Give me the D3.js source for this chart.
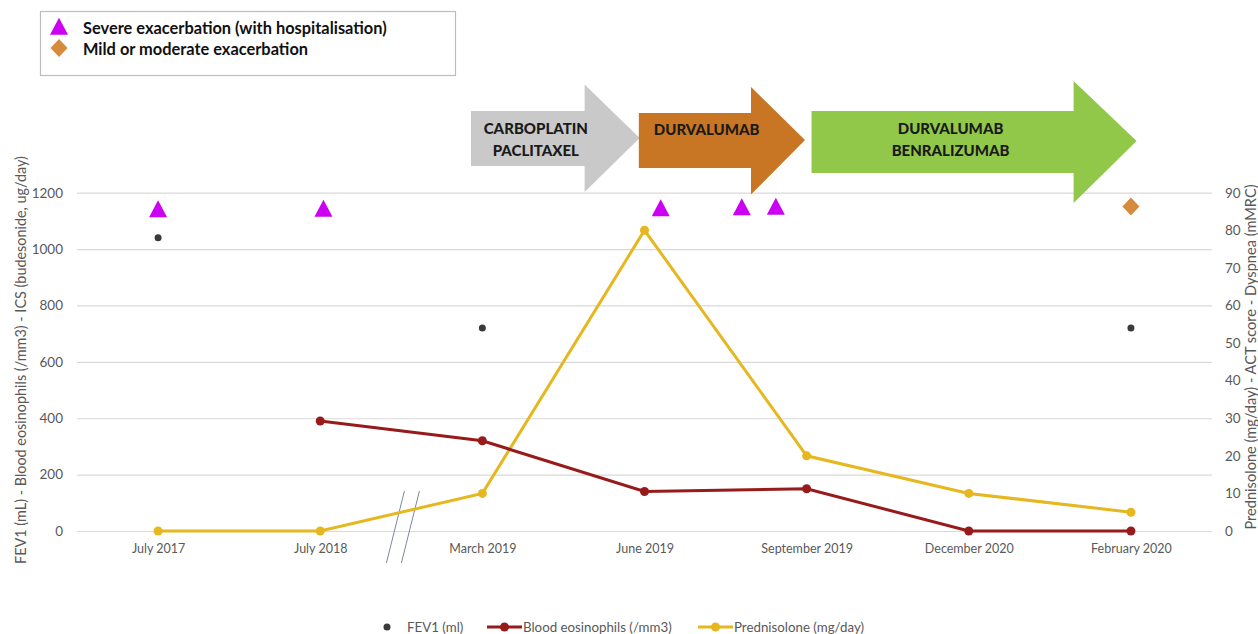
<!DOCTYPE html>
<html>
<head>
<meta charset="utf-8">
<script src="https://cdn.jsdelivr.net/npm/d3@7"></script>
<style>
  html, body { margin: 0; padding: 0; background: #fff; }
  svg { display: block; font-family: Lato, "Open Sans", sans-serif; }
</style>
</head>
<body>
<svg id="chart" width="1258" height="634"></svg>
<script>
// ---------------- DATA ----------------
const categories = ["July 2017", "July 2018", "March 2019", "June 2019", "September 2019", "December 2020", "February 2020"];
const fev1 = [1040, null, 720, null, null, null, 720];            // mL (left axis)
const eosinophils = [null, 390, 320, 140, 150, 0, 0];             // /mm3 (left axis)
const prednisolone = [0, 0, 10, 80, 20, 10, 5];                   // mg/day (right axis)
const leftTicks = [0, 200, 400, 600, 800, 1000, 1200];
const rightTicks = [0, 10, 20, 30, 40, 50, 60, 70, 80, 90];
// exacerbations: position as (fractional) category index, value on left axis
const severePos = [0, 1.02, 3.1, 3.6, 3.81];
const severeVal = [1140, 1142, 1144, 1147, 1149];
const mildPos = [6.0];
const mildVal = [1151];
// treatment periods (fractional category index)
const treatments = [["CARBOPLATIN", "PACLITAXEL"], ["DURVALUMAB"], ["DURVALUMAB", "BENRALIZUMAB"]];
const treatStart = [1.93, 2.965, 4.03];
const treatEnd = [2.97, 3.99, 6.035];
const breakPos = 1.51;
const legendTop = ["Severe exacerbation (with hospitalisation)", "Mild or moderate exacerbation"];
const legendBottom = ["FEV1 (ml)", "Blood eosinophils (/mm3)", "Prednisolone (mg/day)"];
const leftTitle = "FEV1 (mL) - Blood eosinophils (/mm3) - ICS (budesonide, ug/day)";
const rightTitle = "Prednisolone (mg/day) - ACT score - Dyspnea (mMRC)";

// ---------------- STYLE / LAYOUT ----------------
const C = {
  grid: "#d9d9d9", axisText: "#595959",
  eos: "#981b1b", pred: "#e6b71e", fev: "#3a3a3a",
  severe: "#cc00f2", mild: "#d68a3c",
  arrows: ["#c9c9c9", "#c87524", "#92c84a"]
};
const arrowGeom = [ // body top/bottom, head top/bottom, head length, tip y
  { bt: 111, bb: 166, ht: 84.5, hb: 192, hl: 55, ty: 138, tx: "center", lineY: [128, 150] },
  { bt: 113, bb: 168, ht: 87, hb: 194.5, hl: 54, ty: 140, tx: "left", lineY: [129] },
  { bt: 111, bb: 173, ht: 81, hb: 203, hl: 63, ty: 141, tx: "center", lineY: [128, 150] }
];

const svg = d3.select("#chart");
const plotL = 77, plotR = 1212, yBottom = 531, yTop = 192.7;

const x = d3.scalePoint().domain(categories).range([plotL, plotR]).padding(0.5);
const xi = d3.scaleLinear().domain([0, categories.length - 1])
  .range([x(categories[0]), x(categories[categories.length - 1])]);
const yL = d3.scaleLinear().domain([0, 1200]).range([yBottom, yTop]);
const yR = d3.scaleLinear().domain([0, 90]).range([yBottom, yTop]);

// gridlines
const grid = svg.append("g").attr("transform", `translate(${plotL},0)`)
  .call(d3.axisLeft(yL).tickValues(leftTicks).tickSize(-(plotR - plotL)).tickFormat(""));
grid.select(".domain").remove();
grid.selectAll("line").attr("stroke", C.grid).attr("stroke-width", 1.2);

// left axis labels
const axL = svg.append("g").attr("transform", `translate(${plotL},0)`)
  .call(d3.axisLeft(yL).tickValues(leftTicks).tickFormat(d3.format("d")).tickSize(0).tickPadding(14));
axL.select(".domain").remove();
axL.selectAll("text").attr("fill", C.axisText).style("font-size", "13.5px").style("font-family", "Lato");

// right axis labels
const axR = svg.append("g").attr("transform", `translate(${plotR},0)`)
  .call(d3.axisRight(yR).tickValues(rightTicks).tickFormat(d3.format("d")).tickSize(0).tickPadding(13));
axR.select(".domain").remove();
axR.selectAll("text").attr("fill", C.axisText).style("font-size", "13.5px").style("font-family", "Lato");

// x axis labels
const axX = svg.append("g").attr("transform", `translate(0,${yBottom})`)
  .call(d3.axisBottom(x).tickSize(0).tickPadding(13));
axX.select(".domain").remove();
axX.selectAll("text").attr("fill", C.axisText).style("font-size", "12.5px").style("font-family", "Lato");

// axis titles
svg.append("text").attr("transform", `translate(26,360) rotate(-90)`)
  .attr("text-anchor", "middle").attr("fill", C.axisText)
  .style("font-size", "14.4px").text(leftTitle);
svg.append("text").attr("transform", `translate(1256,357) rotate(-90)`)
  .attr("text-anchor", "middle").attr("fill", C.axisText)
  .style("font-size", "14.6px").text(rightTitle);

// axis break marks
const bx = xi(breakPos);
[-7.5, 7.5].forEach(off => {
  svg.append("line")
    .attr("x1", bx + off + 9).attr("y1", 491)
    .attr("x2", bx + off - 9).attr("y2", 563)
    .attr("stroke", "#7d879c").attr("stroke-width", 1);
});

// treatment arrows
treatments.forEach((lines, i) => {
  const g = arrowGeom[i];
  const x0 = xi(treatStart[i]), x1 = xi(treatEnd[i]);
  const hx = x1 - g.hl;
  const path = `M${x0},${g.bt} L${hx},${g.bt} L${hx},${g.ht} L${x1},${g.ty} L${hx},${g.hb} L${hx},${g.bb} L${x0},${g.bb} Z`;
  svg.append("path").attr("d", path).attr("fill", C.arrows[i]);
  const cx = g.tx === "center" ? (x0 + hx) / 2 + 8 : x0 + 15;
  lines.forEach((t, k) => {
    svg.append("text").attr("x", cx).attr("y", g.lineY[k])
      .attr("text-anchor", g.tx === "center" ? "middle" : "start")
      .attr("dominant-baseline", "central")
      .attr("fill", "#1a1a1a").style("font-weight", "900").style("font-size", "15px")
      .text(t);
  });
});

// series lines
const predPts = categories.map((c, i) => ({ c, v: prednisolone[i] })).filter(d => d.v != null);
const eosPts = categories.map((c, i) => ({ c, v: eosinophils[i] })).filter(d => d.v != null);
const fevPts = categories.map((c, i) => ({ c, v: fev1[i] })).filter(d => d.v != null);

svg.append("path").datum(predPts)
  .attr("d", d3.line().x(d => x(d.c)).y(d => yR(d.v)))
  .attr("fill", "none").attr("stroke", C.pred).attr("stroke-width", 3);
svg.selectAll(".predDot").data(predPts).enter().append("circle")
  .attr("cx", d => x(d.c)).attr("cy", d => yR(d.v)).attr("r", 4.5).attr("fill", C.pred);

svg.append("path").datum(eosPts)
  .attr("d", d3.line().x(d => x(d.c)).y(d => yL(d.v)))
  .attr("fill", "none").attr("stroke", C.eos).attr("stroke-width", 3);
svg.selectAll(".eosDot").data(eosPts).enter().append("circle")
  .attr("cx", d => x(d.c)).attr("cy", d => yL(d.v)).attr("r", 4.5).attr("fill", C.eos);

svg.selectAll(".fevDot").data(fevPts).enter().append("circle")
  .attr("cx", d => x(d.c)).attr("cy", d => yL(d.v)).attr("r", 3.5).attr("fill", C.fev);

// symbols
const triPath = (cx, cy, w, h) => `M${cx},${cy - h * 0.55} L${cx + w / 2},${cy + h * 0.45} L${cx - w / 2},${cy + h * 0.45} Z`;
const diaPath = (cx, cy, w, h) => `M${cx},${cy - h / 2} L${cx + w / 2},${cy} L${cx},${cy + h / 2} L${cx - w / 2},${cy} Z`;

severePos.forEach((p, i) => {
  svg.append("path").attr("d", triPath(xi(p), yL(severeVal[i]), 18, 17)).attr("fill", C.severe);
});
mildPos.forEach((p, i) => {
  svg.append("path").attr("d", diaPath(xi(p), yL(mildVal[i]), 17, 18)).attr("fill", C.mild);
});

// top legend
svg.append("rect").attr("x", 40.5).attr("y", 11.5).attr("width", 415).attr("height", 64)
  .attr("fill", "#fff").attr("stroke", "#bdbdbd").attr("stroke-width", 1.2);
svg.append("path").attr("d", triPath(59, 27, 18, 17)).attr("fill", C.severe);
svg.append("path").attr("d", diaPath(59, 48, 17, 18)).attr("fill", C.mild);
legendTop.forEach((t, i) => {
  svg.append("text").attr("x", 83).attr("y", i === 0 ? 27 : 48)
    .attr("dominant-baseline", "central")
    .attr("fill", "#111").style("font-weight", "bold").style("font-size", "16.4px").text(t);
});

// bottom legend
const ly = 627;
svg.append("circle").attr("cx", 387).attr("cy", ly).attr("r", 3.5).attr("fill", C.fev);
svg.append("text").attr("x", 407).attr("y", ly).attr("dominant-baseline", "central")
  .attr("fill", C.axisText).style("font-size", "13.3px").text(legendBottom[0]);
svg.append("line").attr("x1", 487).attr("x2", 522).attr("y1", ly).attr("y2", ly)
  .attr("stroke", C.eos).attr("stroke-width", 3);
svg.append("circle").attr("cx", 504.5).attr("cy", ly).attr("r", 4.5).attr("fill", C.eos);
svg.append("text").attr("x", 523).attr("y", ly).attr("dominant-baseline", "central")
  .attr("fill", C.axisText).style("font-size", "13.3px").text(legendBottom[1]);
svg.append("line").attr("x1", 698).attr("x2", 733).attr("y1", ly).attr("y2", ly)
  .attr("stroke", C.pred).attr("stroke-width", 3);
svg.append("circle").attr("cx", 715.5).attr("cy", ly).attr("r", 4.5).attr("fill", C.pred);
svg.append("text").attr("x", 734).attr("y", ly).attr("dominant-baseline", "central")
  .attr("fill", C.axisText).style("font-size", "13.3px").text(legendBottom[2]);
</script>
</body>
</html>
